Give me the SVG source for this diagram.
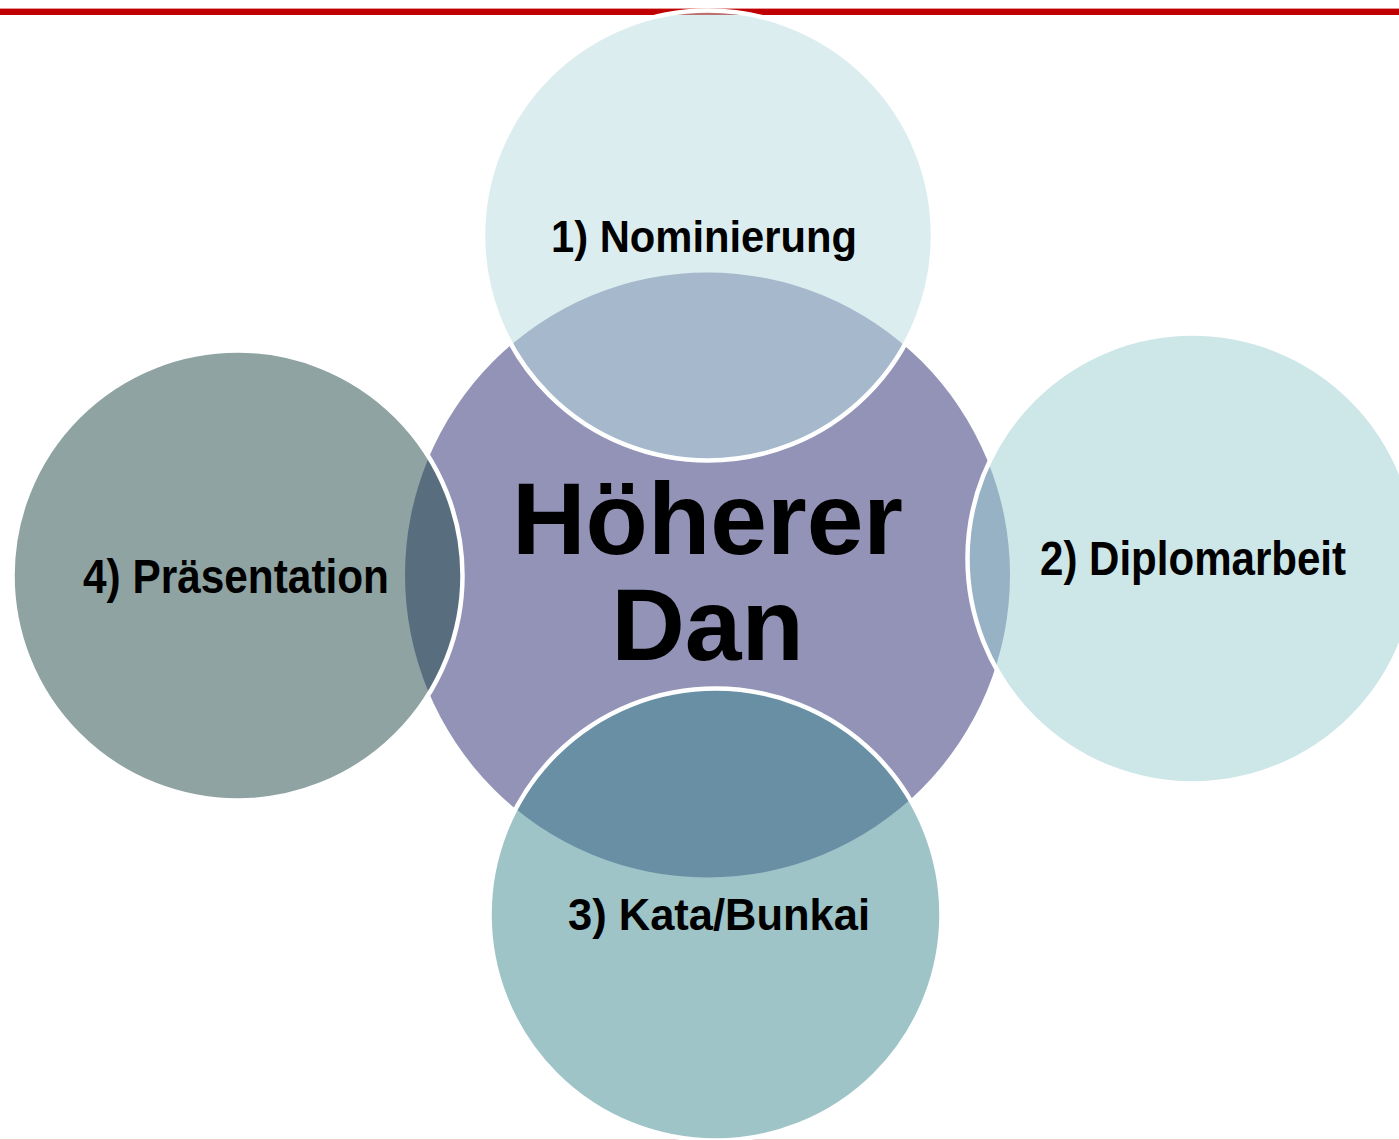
<svg xmlns="http://www.w3.org/2000/svg" width="1399" height="1140" viewBox="0 0 1399 1140">
  <style>
    .outer { stroke: #FFFFFF; stroke-width: 4.5; fill-opacity: 0.51; }
    .lbl { font-family: "Liberation Sans Narrow", "Arial Narrow", "Liberation Sans", Arial, sans-serif; font-weight: bold; fill: #000000; }
    .big { font-family: "Liberation Sans", Arial, sans-serif; font-weight: bold; font-size: 102px; fill: #000000; text-anchor: middle; }
  </style>
  <rect x="0" y="0" width="1399" height="1140" fill="#FFFFFF"/>
  <rect id="top-rule" x="0" y="8.6" width="1399" height="6.4" fill="#C00000"/>
  <rect id="bottom-rule" x="0" y="1139" width="1399" height="1" fill="#F2C8C8"/>
  <g id="connectors"></g>
  <g id="center">
    <circle cx="707.5" cy="575" r="302.5" fill="#9293B7"/>
  </g>
  <g id="n1">
    <circle class="outer" cx="708" cy="235.5" r="225" fill="#B8DCE0"/>
  </g>
  <g id="n2">
    <circle class="outer" cx="1192.5" cy="558.5" r="225" fill="#9DCED2"/>
  </g>
  <g id="n3">
    <circle class="outer" cx="715.5" cy="914.5" r="226" fill="#418B91"/>
  </g>
  <g id="n4">
    <circle class="outer" cx="237.5" cy="575.5" r="225" fill="#214B49"/>
  </g>
  <g id="labels">
    <text class="big" x="707.5" y="554">Höherer</text>
    <text class="big" x="707.5" y="660">Dan</text>
    <text class="lbl" x="551" y="252.3" font-size="44" textLength="306" lengthAdjust="spacingAndGlyphs">1) Nominierung</text>
    <text class="lbl" x="1040" y="575" font-size="49" textLength="306" lengthAdjust="spacingAndGlyphs">2) Diplomarbeit</text>
    <text class="lbl" x="568" y="930" font-size="44" textLength="302" lengthAdjust="spacingAndGlyphs">3) Kata/Bunkai</text>
    <text class="lbl" x="83" y="593.3" font-size="49" textLength="306" lengthAdjust="spacingAndGlyphs">4) Präsentation</text>
  </g>
</svg>
